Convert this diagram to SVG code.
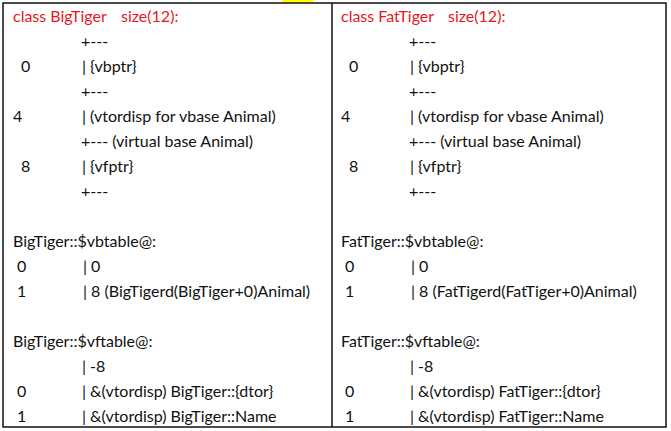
<svg xmlns="http://www.w3.org/2000/svg" width="671" height="431" viewBox="0 0 671 431">
  <style>
    text { font-family: Lato, "Liberation Sans", Arial, sans-serif; font-size: 16px; fill: #111; }
    .title { fill: #e8161e; }
    .frame { fill: none; stroke: #000; stroke-width: 1.4; }
  </style>
  <rect x="0" y="0" width="671" height="431" fill="#fff"/>
  <rect x="282" y="0" width="31" height="2.5" fill="#ffff00"/>
  <g id="connectors">
    <rect class="frame" x="3" y="3" width="663" height="424"/>
    <line class="frame" x1="332" y1="3" x2="332" y2="427"/>
  </g>
  <g id="bigtiger">
    <text class="title" x="13" y="22">class BigTiger</text>
    <text class="title" x="121" y="22">size(12):</text>
    <text x="81" y="47">+---</text>
    <text x="21" y="72">0</text><text x="82" y="72">| {vbptr}</text>
    <text x="81" y="97">+---</text>
    <text x="13" y="122">4</text><text x="82" y="122">| (vtordisp for vbase Animal)</text>
    <text x="81" y="147">+--- (virtual base Animal)</text>
    <text x="21" y="172">8</text><text x="82" y="172">| {vfptr}</text>
    <text x="81" y="197">+---</text>
    <text x="13" y="247">BigTiger::$vbtable@:</text>
    <text x="17" y="272">0</text><text x="83" y="272">| 0</text>
    <text x="17" y="297">1</text><text x="83" y="297">| 8 (BigTigerd(BigTiger+0)Animal)</text>
    <text x="13" y="347">BigTiger::$vftable@:</text>
    <text x="82" y="372">| -8</text>
    <text x="17" y="397">0</text><text x="82" y="397">| &amp;(vtordisp) BigTiger::{dtor}</text>
    <text x="17" y="422">1</text><text x="82" y="422">| &amp;(vtordisp) BigTiger::Name</text>
  </g>
  <g id="fattiger">
    <text class="title" x="341" y="22">class FatTiger</text>
    <text class="title" x="448" y="22">size(12):</text>
    <text x="409" y="47">+---</text>
    <text x="349" y="72">0</text><text x="410" y="72">| {vbptr}</text>
    <text x="409" y="97">+---</text>
    <text x="341" y="122">4</text><text x="410" y="122">| (vtordisp for vbase Animal)</text>
    <text x="409" y="147">+--- (virtual base Animal)</text>
    <text x="349" y="172">8</text><text x="410" y="172">| {vfptr}</text>
    <text x="409" y="197">+---</text>
    <text x="341" y="247">FatTiger::$vbtable@:</text>
    <text x="345" y="272">0</text><text x="411" y="272">| 0</text>
    <text x="345" y="297">1</text><text x="411" y="297">| 8 (FatTigerd(FatTiger+0)Animal)</text>
    <text x="341" y="347">FatTiger::$vftable@:</text>
    <text x="410" y="372">| -8</text>
    <text x="345" y="397">0</text><text x="410" y="397">| &amp;(vtordisp) FatTiger::{dtor}</text>
    <text x="345" y="422">1</text><text x="410" y="422">| &amp;(vtordisp) FatTiger::Name</text>
  </g>
</svg>
